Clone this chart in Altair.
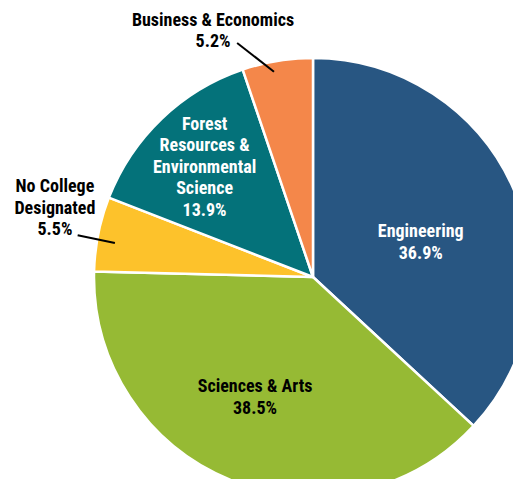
import math
import altair as alt
import pandas as pd

# ---- data ----
categories = ["Engineering", "Sciences & Arts", "No College Designated",
              "Forest Resources & Environmental Science", "Business & Economics"]
shares = [36.9, 38.5, 5.5, 13.9, 5.2]
label_lines = [
    ["Engineering", "36.9%"],
    ["Sciences & Arts", "38.5%"],
    ["No College", "Designated", "5.5%"],
    ["Forest", "Resources &", "Environmental", "Science", "13.9%"],
    ["Business & Economics", "5.2%"],
]

# ---- style ----
colors = ["#285682", "#96BA34", "#FDC22B", "#04727A", "#F4874A"]
text_colors = ["white", "black", "black", "white", "black"]
FONT = "Roboto Condensed, Liberation Sans Narrow, Roboto, sans-serif"
FS, LH = 18, 21.5
CX, CY, R = 305, 269, 219
W, H = 505, 471
# label placement: (angle nudge in degrees, radius) for the label block centre
label_place = [(6, 113), (3.5, 134), (3.5, 267), (-1, 154), (-12.8, 265)]
# leader lines for outside labels: index -> (inner angle nudge, inner r, outer angle nudge, outer r)
leaders = {2: (-1.6, 201, -1.3, 239), 4: (-1.4, 209, -8.6, 246)}

total = sum(shares)
rows, lrows = [], []
cum = 0.0
for i, (c, v) in enumerate(zip(categories, shares)):
    mid = (cum + v / 2) / total * 360
    nudge, r = label_place[i]
    a = math.radians(mid + nudge)
    n = len(label_lines[i])
    rows.append(dict(idx=i, category=c, value=v, lines=label_lines[i],
                     lx=CX + r * math.sin(a),
                     ly=CY - r * math.cos(a) - (n - 1) * LH / 2,
                     tcol=text_colors[i]))
    if i in leaders:
        n1, r1, n2, r2 = leaders[i]
        a1, a2 = math.radians(mid + n1), math.radians(mid + n2)
        lrows.append(dict(x1=CX + r1 * math.sin(a1), y1=CY - r1 * math.cos(a1),
                          x2=CX + r2 * math.sin(a2), y2=CY - r2 * math.cos(a2)))
    cum += v

df = pd.DataFrame(rows)
ldf = pd.DataFrame(lrows)

arcs = alt.Chart(df).mark_arc(outerRadius=R, stroke="white", strokeWidth=2.5).encode(
    theta=alt.Theta("value:Q", stack=True),
    order=alt.Order("idx:Q"),
    color=alt.Color("category:N", scale=alt.Scale(domain=categories, range=colors), legend=None),
    x=alt.value(CX), y=alt.value(CY),
)

labels = alt.Chart(df).mark_text(font=FONT, fontSize=FS, fontWeight="bold",
                                 lineHeight=LH, align="center", baseline="middle").encode(
    x=alt.X("lx:Q", scale=None), y=alt.Y("ly:Q", scale=None),
    text="lines",
    color=alt.Color("tcol:N", scale=None),
)

rules = alt.Chart(ldf).mark_rule(color="black", strokeWidth=2).encode(
    x=alt.X("x1:Q", scale=None), y=alt.Y("y1:Q", scale=None),
    x2="x2:Q", y2="y2:Q",
)

chart = alt.layer(arcs, rules, labels).properties(
    width=W, height=H, padding=0, autosize=alt.AutoSizeParams(type="none")
).configure_view(stroke=None)

chart.save("out.html", embed_options={"renderer": "svg", "actions": False})
